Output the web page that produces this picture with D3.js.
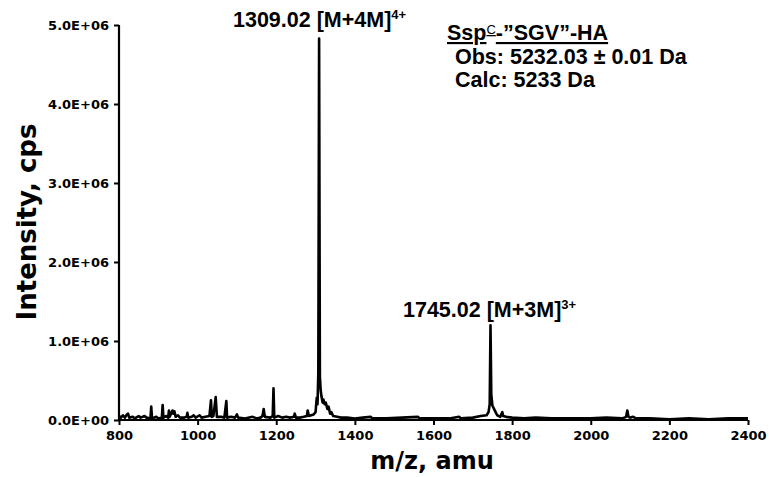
<!DOCTYPE html>
<html>
<head>
<meta charset="utf-8">
<script src="https://cdn.jsdelivr.net/npm/d3@7"></script>
<style>
  body { margin: 0; background: #fff; }
  .tick text { font-family: "DejaVu Sans", Verdana, sans-serif; font-weight: bold; font-size: 13px; fill: #000; }
  .ann { font-family: "Liberation Sans", Arial, sans-serif; font-weight: bold; font-size: 21.5px; fill: #000; }
  .title { font-family: "DejaVu Sans", Verdana, sans-serif; font-weight: bold; fill: #000; }
</style>
</head>
<body>
<div id="chart"></div>
<script>
// spectrum (m/z, intensity in cps)
var mz = [800, 805, 810, 815, 820, 823, 826, 835, 840, 850, 855, 865, 870, 880, 882, 884, 895, 900, 909, 911, 913,
  920, 925, 927, 929, 936, 938, 941, 944, 950, 955, 965, 972, 974, 976, 985, 990, 995, 1005, 1010, 1020,
  1030, 1034, 1036, 1040, 1046, 1049, 1060, 1068, 1073, 1075, 1085, 1095, 1100, 1103, 1120, 1140, 1150,
  1160, 1165, 1168, 1171, 1185, 1191, 1193, 1195, 1205, 1215, 1225, 1235, 1245, 1247, 1250, 1260, 1270,
  1278, 1280, 1283, 1295, 1300, 1303, 1305, 1307, 1309, 1311, 1313, 1315, 1318, 1320, 1323, 1326, 1330,
  1333, 1337, 1340, 1345, 1355, 1365, 1380, 1400, 1420, 1440, 1445, 1480, 1520, 1560, 1565, 1600, 1640,
  1665, 1670, 1700, 1720, 1735, 1740, 1743, 1745, 1747, 1750, 1754, 1758, 1762, 1770, 1775, 1777, 1785,
  1800, 1830, 1860, 1900, 1950, 2000, 2040, 2080, 2090, 2093, 2096, 2100, 2108, 2115, 2150, 2200, 2250,
  2300, 2350, 2400];
var intensity = [0.05e6, 0.03e6, 0.06e6, 0.03e6, 0.07e6, 0.08e6, 0.03e6, 0.04e6, 0.02e6, 0.05e6, 0.03e6, 0.05e6,
  0.03e6, 0.02e6, 0.17e6, 0.02e6, 0.04e6, 0.02e6, 0.03e6, 0.19e6, 0.03e6,
  0.05e6, 0.03e6, 0.12e6, 0.04e6, 0.12e6, 0.08e6, 0.11e6, 0.04e6, 0.06e6, 0.03e6, 0.03e6, 0.04e6, 0.09e6,
  0.03e6, 0.04e6, 0.06e6, 0.03e6, 0.06e6, 0.03e6, 0.04e6,
  0.05e6, 0.25e6, 0.04e6, 0.05e6, 0.29e6, 0.04e6, 0.04e6, 0.03e6, 0.24e6, 0.03e6, 0.04e6, 0.03e6, 0.07e6,
  0.03e6, 0.02e6, 0.04e6, 0.02e6,
  0.03e6, 0.05e6, 0.14e6, 0.04e6, 0.03e6, 0.05e6, 0.40e6, 0.03e6, 0.05e6, 0.03e6, 0.04e6, 0.03e6, 0.04e6,
  0.08e6, 0.03e6, 0.03e6, 0.04e6,
  0.05e6, 0.12e6, 0.05e6, 0.07e6, 0.10e6, 0.28e6, 0.20e6, 0.60e6, 4.83e6, 0.55e6, 0.38e6, 0.30e6, 0.22e6,
  0.26e6, 0.20e6, 0.22e6, 0.14e6,
  0.17e6, 0.08e6, 0.10e6, 0.05e6, 0.04e6, 0.03e6, 0.03e6, 0.02e6, 0.03e6, 0.04e6, 0.02e6, 0.02e6, 0.03e6,
  0.04e6, 0.02e6, 0.02e6, 0.02e6,
  0.04e6, 0.02e6, 0.03e6, 0.05e6, 0.06e6, 0.10e6, 0.20e6, 1.20e6, 0.32e6, 0.18e6, 0.14e6, 0.10e6, 0.06e6,
  0.04e6, 0.10e6, 0.05e6, 0.04e6,
  0.03e6, 0.02e6, 0.03e6, 0.02e6, 0.02e6, 0.02e6, 0.03e6, 0.02e6, 0.04e6, 0.12e6, 0.04e6, 0.03e6, 0.04e6,
  0.02e6, 0.02e6, 0.01e6, 0.02e6,
  0.01e6, 0.02e6, 0.02e6];

var xTicks = [800, 1000, 1200, 1400, 1600, 1800, 2000, 2200, 2400];
var yTicks = [0, 1e6, 2e6, 3e6, 4e6, 5e6];

var width = 769, height = 477;
var mLeft = 119, mRight = 748, mTop = 25, mBottom = 420;

var svg = d3.select("#chart").append("svg")
    .attr("width", width)
    .attr("height", height);

var x = d3.scaleLinear().domain([800, 2400]).range([mLeft, mRight]);
var y = d3.scaleLinear().domain([0, 5e6]).range([mBottom, mTop]);

function sci(v) {
    if (v === 0) return "0.0E+00";
    var e = Math.floor(Math.log10(v));
    var m = v / Math.pow(10, e);
    return m.toFixed(1) + "E+" + (e < 10 ? "0" + e : e);
}

// spectrum
var line = d3.line()
    .x(function(d) { return x(d[0]); })
    .y(function(d) { return y(d[1]); });

svg.append("path")
    .datum(mz.map(function(m, i) { return [m, intensity[i]]; }))
    .attr("fill", "none")
    .attr("stroke", "#000")
    .attr("stroke-width", 2.6)
    .attr("stroke-linejoin", "round")
    .attr("d", line);

// axes
var gx = svg.append("g")
    .attr("transform", "translate(0," + mBottom + ")")
    .call(d3.axisBottom(x).tickValues(xTicks).tickSize(5).tickPadding(6).tickFormat(d3.format("d")));
var gy = svg.append("g")
    .attr("transform", "translate(" + mLeft + ",0)")
    .call(d3.axisLeft(y).tickValues(yTicks).tickSize(5).tickPadding(5).tickFormat(sci));
[gx, gy].forEach(function(g) {
    g.select(".domain").attr("stroke", "#000").attr("stroke-width", 2.2);
    g.selectAll(".tick line").attr("stroke", "#000").attr("stroke-width", 2);
});
gx.select(".domain").attr("d", "M" + mLeft + ",0H" + mRight);
gy.select(".domain").attr("d", "M0," + mBottom + "V" + mTop);

// axis titles
svg.append("text")
    .attr("class", "title")
    .attr("x", 432).attr("y", 469)
    .attr("text-anchor", "middle")
    .style("font-size", "24px")
    .text("m/z, amu");

svg.append("text")
    .attr("class", "title")
    .attr("transform", "translate(36,222) rotate(-90)")
    .attr("text-anchor", "middle")
    .style("font-size", "26px")
    .text("Intensity, cps");

// peak annotations
function peakLabel(px, py, main, sup) {
    var t = svg.append("text").attr("class", "ann").attr("x", px).attr("y", py);
    t.append("tspan").text(main);
    t.append("tspan").attr("dy", -8).style("font-size", "13px").text(sup);
}
peakLabel(233, 27, "1309.02 [M+4M]", "4+");
peakLabel(403, 317, "1745.02 [M+3M]", "3+");

// construct info
var info = svg.append("text").attr("class", "ann").attr("x", 447).attr("y", 40)
    .style("text-decoration", "underline");
info.append("tspan").text("Ssp");
info.append("tspan").attr("dy", -6).style("font-size", "13px").style("font-weight", "normal").text("C");
info.append("tspan").attr("dy", 6).text("-\u201dSGV\u201d-HA");

svg.append("text").attr("class", "ann").attr("x", 455).attr("y", 64)
    .text("Obs: 5232.03 \u00b1 0.01 Da");
svg.append("text").attr("class", "ann").attr("x", 455).attr("y", 87)
    .text("Calc: 5233 Da");
</script>
</body>
</html>
